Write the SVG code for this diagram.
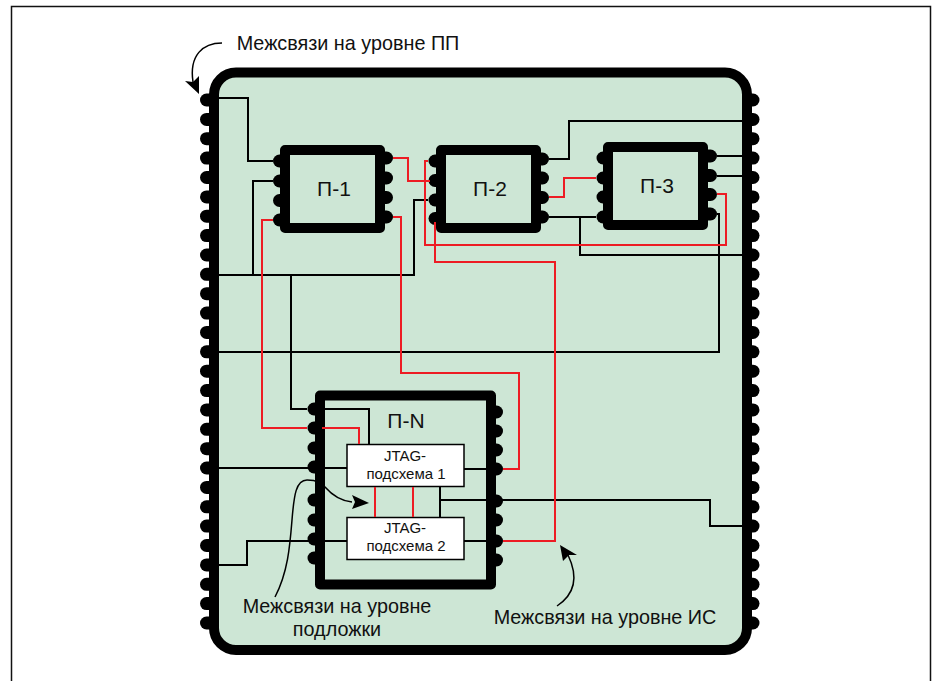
<svg xmlns="http://www.w3.org/2000/svg" width="936" height="681" viewBox="0 0 936 681">
<style>
text{font-family:"Liberation Sans","Noto Sans",sans-serif;fill:#111;text-anchor:middle}
.lbl{font-size:19.8px}
.chip{font-size:21px}
.small{font-size:15px}
.body{fill:#cde6d5;stroke:#000;stroke-width:10;stroke-linejoin:round}
.pin{stroke:#000;stroke-width:13;stroke-linecap:round;fill:none}
.bk{fill:none;stroke:#000;stroke-width:2}
.rd{fill:none;stroke:#ed1c24;stroke-width:2}
.jt{fill:#fff;stroke:#000;stroke-width:1.5}
.ar{fill:none;stroke:#000;stroke-width:1.5}
</style>
<defs>
<path id="pl" class="pin" d="M0 0H8"/>
</defs>
<rect x="11.5" y="6.5" width="919" height="680" fill="#fff" stroke="#111" stroke-width="1.5"/>
<g id="board">
<g id="board-pins-left" transform="translate(206.5,0)">
<use href="#pl" y="100"/><use href="#pl" y="119.4"/><use href="#pl" y="138.7"/><use href="#pl" y="158.1"/><use href="#pl" y="177.5"/><use href="#pl" y="196.9"/><use href="#pl" y="216.2"/><use href="#pl" y="235.6"/><use href="#pl" y="255"/><use href="#pl" y="274.3"/><use href="#pl" y="293.7"/><use href="#pl" y="313.1"/><use href="#pl" y="332.4"/><use href="#pl" y="351.8"/><use href="#pl" y="371.2"/><use href="#pl" y="390.6"/><use href="#pl" y="409.9"/><use href="#pl" y="429.3"/><use href="#pl" y="448.7"/><use href="#pl" y="468"/><use href="#pl" y="487.4"/><use href="#pl" y="506.8"/><use href="#pl" y="526.1"/><use href="#pl" y="545.5"/><use href="#pl" y="564.9"/><use href="#pl" y="584.3"/><use href="#pl" y="603.6"/><use href="#pl" y="623"/>
</g>
<g id="board-pins-right" transform="translate(745,0)">
<use href="#pl" y="100"/><use href="#pl" y="119.4"/><use href="#pl" y="138.7"/><use href="#pl" y="158.1"/><use href="#pl" y="177.5"/><use href="#pl" y="196.9"/><use href="#pl" y="216.2"/><use href="#pl" y="235.6"/><use href="#pl" y="255"/><use href="#pl" y="274.3"/><use href="#pl" y="293.7"/><use href="#pl" y="313.1"/><use href="#pl" y="332.4"/><use href="#pl" y="351.8"/><use href="#pl" y="371.2"/><use href="#pl" y="390.6"/><use href="#pl" y="409.9"/><use href="#pl" y="429.3"/><use href="#pl" y="448.7"/><use href="#pl" y="468"/><use href="#pl" y="487.4"/><use href="#pl" y="506.8"/><use href="#pl" y="526.1"/><use href="#pl" y="545.5"/><use href="#pl" y="564.9"/><use href="#pl" y="584.3"/><use href="#pl" y="603.6"/><use href="#pl" y="623"/>
</g>
<rect class="body" x="214" y="72.5" width="533" height="577.5" rx="22"/>
</g>
<g id="chip-p1">
<use href="#pl" x="279.5" y="161"/><use href="#pl" x="279.5" y="181"/><use href="#pl" x="279.5" y="200.5"/><use href="#pl" x="279.5" y="220"/>
<use href="#pl" x="378.5" y="158"/><use href="#pl" x="378.5" y="178"/><use href="#pl" x="378.5" y="197.5"/><use href="#pl" x="378.5" y="217"/>
<rect class="body" x="285" y="150" width="95" height="78"/>
<text class="chip" x="334" y="196">П-1</text>
</g>
<g id="chip-p2">
<use href="#pl" x="435" y="161"/><use href="#pl" x="435" y="180.5"/><use href="#pl" x="435" y="200"/><use href="#pl" x="435" y="218.5"/>
<use href="#pl" x="534.5" y="159"/><use href="#pl" x="534.5" y="178"/><use href="#pl" x="534.5" y="197.5"/><use href="#pl" x="534.5" y="217"/>
<rect class="body" x="441" y="150" width="95" height="78"/>
<text class="chip" x="490" y="196">П-2</text>
</g>
<g id="chip-p3">
<use href="#pl" x="603" y="158"/><use href="#pl" x="603" y="178"/><use href="#pl" x="603" y="197"/><use href="#pl" x="603" y="217"/>
<use href="#pl" x="702.5" y="156"/><use href="#pl" x="702.5" y="175.5"/><use href="#pl" x="702.5" y="194.5"/><use href="#pl" x="702.5" y="214"/>
<rect class="body" x="608" y="147" width="95" height="78"/>
<text class="chip" x="657" y="193">П-3</text>
</g>
<g id="chip-pn">
<use href="#pl" x="314" y="409"/><use href="#pl" x="314" y="428"/><use href="#pl" x="314" y="448"/><use href="#pl" x="314" y="467"/><use href="#pl" x="314" y="500"/><use href="#pl" x="314" y="520"/><use href="#pl" x="314" y="539"/><use href="#pl" x="314" y="558"/>
<use href="#pl" x="488.5" y="412"/><use href="#pl" x="488.5" y="431"/><use href="#pl" x="488.5" y="450"/><use href="#pl" x="488.5" y="469"/><use href="#pl" x="488.5" y="501"/><use href="#pl" x="488.5" y="520"/><use href="#pl" x="488.5" y="541"/><use href="#pl" x="488.5" y="560"/>
<rect class="body" x="320" y="395.5" width="171" height="189"/>
<text class="chip" x="406" y="428">П-N</text>
</g>
<g id="jtag1">
<rect class="jt" x="347" y="444.5" width="117" height="42"/>
<text class="small" x="405" y="461">JTAG-</text>
<text class="small" x="406" y="479">подсхема 1</text>
</g>
<g id="jtag2">
<rect class="jt" x="347" y="517.5" width="117" height="42"/>
<text class="small" x="405" y="533">JTAG-</text>
<text class="small" x="406" y="551">подсхема 2</text>
</g>
<g id="connectors">
<path class="bk" d="M219 98H248V161H273"/>
<path class="bk" d="M273 181H253V275"/>
<path class="bk" d="M428 200H414V275H219"/>
<path class="bk" d="M291 275V409H307"/>
<path class="bk" d="M325 409H369V444"/>
<path class="bk" d="M549 159H569V121H742"/>
<path class="bk" d="M549 217H596"/>
<path class="bk" d="M580 217V255H742"/>
<path class="bk" d="M717 156H742"/>
<path class="bk" d="M717 176H742"/>
<path class="bk" d="M717 214H719V352H219"/>
<path class="bk" d="M219 468H347"/>
<path class="bk" d="M464 469H486"/>
<path class="bk" d="M440 487V517"/>
<path class="bk" d="M440 500H710V526H742"/>
<path class="bk" d="M347 541H247V565H219"/>
<path class="bk" d="M464 541H486"/>
<path class="rd" d="M273 220H262V428H307"/>
<path class="rd" d="M322 428H359V444"/>
<path class="rd" d="M393 158H408V181H430"/>
<path class="rd" d="M393 217H401V373H519V469H503"/>
<path class="rd" d="M428 161H425V245H726V194H717"/>
<path class="rd" d="M435 222V262H555V541H503"/>
<path class="rd" d="M549 197H564V178H596"/>
<path class="rd" d="M375 487V517"/>
<path class="rd" d="M413 487V517"/>
<path class="ar" d="M222 43C203 43 189 55 193 82"/>
<path d="M199 94L185 81L193 82L199 76Z"/>
<path class="ar" d="M275 597C288 572 290 545 292 520C294 495 296 480 307 480C318 480 322 484 325 487C332 495 342 501 352 502"/>
<path d="M369 503L352 495L355 502L352 509Z"/>
<path class="ar" d="M557 606C572 596 580 580 568 555"/>
<path d="M560 545L577 555L569 555L563 561Z"/>
</g>
<g id="labels">
<text class="lbl" x="348" y="50">Межсвязи на уровне ПП</text>
<text class="lbl" x="337" y="613">Межсвязи на уровне</text>
<text class="lbl" x="337" y="636">подложки</text>
<text class="lbl" x="605" y="624">Межсвязи на уровне ИС</text>
</g>
</svg>
